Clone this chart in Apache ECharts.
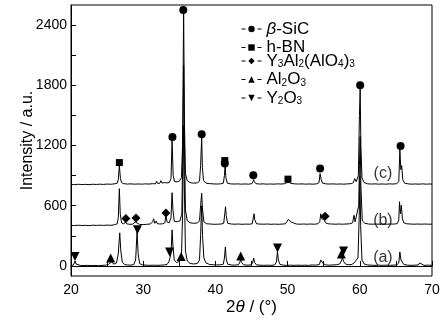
<!DOCTYPE html>
<html><head><meta charset="utf-8">
<script src="https://cdn.jsdelivr.net/npm/echarts@6/dist/echarts.min.js"></script>
<style>html,body{margin:0;padding:0;background:#fff}#c{width:448px;height:322px}</style>
</head><body><div id="c"></div>
<script>
// ---- data (2θ in degrees, intensity a.u.) ----
const traceC = [[20.0,812],[20.5,810],[21.0,814],[21.5,811],[22.0,813],[22.5,810],[23.0,814],[23.5,812],[24.0,815],[24.5,812],[25.0,816],[25.5,814],[26.0,818],[26.4,825],[26.55,860],[26.7,1000],[26.85,870],[27.0,830],[27.3,820],[27.8,816],[28.3,818],[28.8,815],[29.3,817],[29.8,815],[30.3,818],[30.8,816],[31.3,820],[31.7,818],[31.85,845],[32.0,822],[32.3,824],[32.45,850],[32.6,826],[32.9,830],[33.05,845],[33.2,828],[33.6,830],[33.85,870],[34.0,1250],[34.15,900],[34.35,840],[34.7,838],[35.0,845],[35.3,880],[35.45,1200],[35.6,2540],[35.72,1400],[35.85,920],[36.1,850],[36.5,830],[37.0,825],[37.5,828],[37.8,845],[37.95,1000],[38.1,1280],[38.2,980],[38.35,850],[38.7,825],[39.2,820],[39.7,818],[40.2,816],[40.7,818],[41.1,825],[41.25,900],[41.35,1010],[41.45,880],[41.65,825],[42.1,818],[42.6,816],[43.1,818],[43.6,815],[44.1,817],[44.6,815],[45.05,820],[45.2,840],[45.3,860],[45.4,840],[45.6,820],[46.1,816],[46.6,818],[47.1,815],[47.6,817],[48.1,815],[48.6,818],[49.1,816],[49.6,820],[49.9,830],[50.05,838],[50.2,832],[50.5,822],[51.0,818],[51.5,816],[52.0,818],[52.5,815],[53.0,817],[53.5,815],[54.0,818],[54.35,830],[54.5,920],[54.65,860],[54.85,825],[55.3,818],[55.8,816],[56.3,818],[56.8,815],[57.3,817],[57.8,815],[58.3,818],[58.8,820],[59.1,830],[59.3,870],[59.5,840],[59.8,900],[59.95,1500],[60.05,1770],[60.15,1200],[60.3,880],[60.6,830],[61.1,818],[61.6,816],[62.1,818],[62.6,815],[63.1,817],[63.6,815],[64.1,818],[64.6,816],[65.1,820],[65.4,840],[65.55,1160],[65.68,960],[65.8,1000],[65.95,860],[66.2,825],[66.7,818],[67.2,815],[67.7,817],[68.2,815],[68.7,818],[69.2,815],[69.7,817],[70,815]];
const traceB = [[20.0,405],[20.5,402],[21.0,406],[21.5,403],[22.0,405],[22.5,402],[23.0,406],[23.5,404],[24.0,406],[24.5,404],[25.0,407],[25.5,405],[26.0,410],[26.4,420],[26.55,480],[26.7,770],[26.82,520],[27.0,430],[27.3,418],[27.55,440],[27.7,420],[28.0,416],[28.5,415],[28.9,438],[29.05,420],[29.5,414],[30.0,412],[30.5,415],[31.0,418],[31.3,440],[31.45,470],[31.6,425],[31.8,448],[31.95,422],[32.3,418],[32.7,420],[33.0,430],[33.15,505],[33.3,440],[33.6,430],[33.85,480],[34.0,730],[34.12,560],[34.3,445],[34.7,440],[35.1,450],[35.35,520],[35.5,1200],[35.6,2000],[35.7,1300],[35.85,560],[36.1,450],[36.5,430],[37.0,425],[37.5,428],[37.8,450],[37.95,600],[38.1,725],[38.2,580],[38.4,440],[38.8,420],[39.3,418],[39.8,415],[40.3,416],[40.8,418],[41.15,425],[41.3,520],[41.4,590],[41.5,500],[41.7,425],[42.2,418],[42.7,416],[43.2,418],[43.7,415],[44.2,417],[44.7,416],[45.1,420],[45.25,480],[45.35,520],[45.45,460],[45.7,420],[46.2,417],[46.7,416],[47.2,418],[47.7,415],[48.2,417],[48.7,415],[49.2,417],[49.7,420],[49.95,445],[50.1,465],[50.25,450],[50.45,440],[50.7,425],[51.2,418],[51.7,416],[52.2,418],[52.7,416],[53.2,418],[53.7,416],[54.2,420],[54.45,440],[54.6,520],[54.7,470],[54.85,480],[55.0,465],[55.25,430],[55.6,420],[56.1,418],[56.6,416],[57.1,418],[57.6,416],[58.1,418],[58.6,420],[59.0,430],[59.2,505],[59.35,440],[59.6,430],[59.85,600],[59.95,1000],[60.05,1290],[60.15,800],[60.35,450],[60.7,425],[61.2,418],[61.7,416],[62.2,418],[62.7,416],[63.2,418],[63.7,416],[64.2,418],[64.7,417],[65.2,422],[65.4,460],[65.5,640],[65.62,520],[65.75,605],[65.9,470],[66.1,430],[66.5,420],[67.0,418],[67.5,416],[68.0,418],[68.5,416],[69.0,418],[69.5,416],[70,417]];
const traceA = [[20.0,5],[20.3,8],[20.45,30],[20.55,50],[20.7,20],[20.9,8],[21.3,5],[21.8,4],[22.3,6],[22.8,4],[23.3,5],[23.8,3],[24.3,6],[24.8,8],[25.2,15],[25.45,30],[25.6,40],[25.75,22],[25.95,18],[26.3,30],[26.55,120],[26.75,330],[26.9,150],[27.1,40],[27.4,15],[27.8,10],[28.3,8],[28.7,15],[28.95,60],[29.15,340],[29.3,120],[29.5,25],[29.9,10],[30.4,8],[30.9,6],[31.4,8],[31.9,6],[32.4,8],[32.9,10],[33.3,15],[33.55,40],[33.7,80],[33.85,120],[34.0,360],[34.12,200],[34.3,60],[34.6,35],[34.9,40],[35.15,60],[35.3,90],[35.45,500],[35.6,1400],[35.72,700],[35.85,150],[36.1,50],[36.5,25],[37.0,20],[37.5,25],[37.8,60],[37.95,300],[38.1,600],[38.22,300],[38.4,80],[38.7,30],[39.2,15],[39.7,12],[40.2,10],[40.7,12],[41.1,18],[41.25,80],[41.38,190],[41.5,70],[41.7,18],[42.2,10],[42.7,8],[43.2,12],[43.4,40],[43.5,60],[43.62,35],[43.9,12],[44.4,8],[44.9,10],[45.15,30],[45.3,80],[45.42,35],[45.7,10],[46.2,8],[46.7,6],[47.2,8],[47.7,6],[48.2,10],[48.45,40],[48.6,145],[48.72,60],[48.95,15],[49.4,8],[49.9,6],[50.4,8],[50.9,6],[51.4,8],[51.9,6],[52.4,8],[52.9,6],[53.4,10],[53.9,8],[54.4,15],[54.6,60],[54.72,70],[54.9,25],[55.3,10],[55.8,8],[56.3,10],[56.8,12],[57.2,20],[57.45,50],[57.6,80],[57.75,45],[58.0,20],[58.4,12],[58.9,15],[59.2,30],[59.4,20],[59.75,80],[59.92,500],[60.02,900],[60.12,400],[60.3,60],[60.6,20],[61.1,10],[61.6,8],[62.1,6],[62.6,8],[63.1,6],[63.6,8],[64.1,6],[64.6,8],[65.1,10],[65.4,30],[65.55,140],[65.7,60],[65.85,50],[66.1,15],[66.6,8],[67.1,6],[67.6,8],[68.1,10],[68.3,30],[68.45,12],[68.9,6],[69.4,8],[70,6]];

const sicMarks   = [[34.05,1285],[35.55,2550],[38.1,1313],[41.3,1020],[45.25,905],[54.5,970],[60.05,1800],[65.65,1195]];
const hbnMarks   = [[26.7,1030],[41.3,1050],[50.05,865]];
const yagMarks   = [[27.6,472],[29.0,479],[33.15,528],[55.2,495]];
const al2o3Marks = [[25.5,80],[35.25,95],[43.5,100],[57.45,120]];
const y2o3Marks  = [[20.55,95],[29.2,362],[33.65,140],[48.6,180],[57.75,150]];

const curveLabels = ['(a)','(b)','(c)'];
const curveLabelX = [63.2,63.2,63.2];
const curveLabelY = [87,455,924];

const yLabelValues = [0,600,1200,1800,2400];
const yTickValues  = [0,300,600,900,1200,1500,1800,2100,2400];
const xLabelValues = [20,30,40,50,60,70];
const xTickValues  = [20,25,30,35,40,45,50,55,60,65,70];

const phaseNames = ['β-SiC','h-BN','Y3Al2(AlO4)3','Al2O3','Y2O3'];
const phaseRich = {
  'β-SiC': '{i|β}{n|-SiC}',
  'h-BN': '{n|h-BN}',
  'Y3Al2(AlO4)3': '{n|Y}{s|3}{n|Al}{s|2}{n|(AlO}{s|4}{n|)}{s|3}',
  'Al2O3': '{n|Al}{s|2}{n|O}{s|3}',
  'Y2O3': '{n|Y}{s|2}{n|O}{s|3}'
};

const FONT = '"Liberation Sans", Arial, sans-serif';
const chart = echarts.init(document.getElementById('c'), null, {renderer:'canvas'});

function traceSeries(name, data){
  return {name, type:'line', data, symbol:'none', smooth:false, animation:false,
    lineStyle:{color:'#000', width:1}, z:2};
}
function markSeries(name, data, symbol, rotate, size){
  return {name, type:'line', data, symbol, symbolSize:size, symbolRotate:rotate, showSymbol:true,
    animation:false, itemStyle:{color:'#000'}, lineStyle:{width:0, color:'#000'}, z:5};
}
const legendRowTop = [15.5, 34, 47.5, 66, 84.5];
function legendRow(i){
  return {
    orient:'vertical', left:236, top:legendRowTop[i], itemWidth:20, itemHeight:8, itemGap:0,
    data:[phaseNames[i]], selectedMode:false,
    lineStyle:{color:'#000', width:1, type:[4,12], opacity:1},
    itemStyle:{color:'#000'},
    formatter: n => phaseRich[n],
    textStyle:{fontFamily:FONT, fontSize:17, color:'#000', lineHeight:17,
      rich:{
        n:{fontFamily:FONT, fontSize:17, color:'#000', lineHeight:17},
        i:{fontFamily:FONT, fontSize:17, color:'#000', fontStyle:'italic', lineHeight:17},
        s:{fontFamily:FONT, fontSize:10, color:'#000', lineHeight:10, padding:[7,0,0,0]}
      }}
  };
}

chart.setOption({
  backgroundColor:'#fff',
  animation:false,
  grid:{left:71, right:16, top:5, bottom:46, show:true, borderColor:'#000', borderWidth:1},
  legend: phaseNames.map((_, i) => legendRow(i)),
  xAxis:{
    type:'value', min:20, max:70,
    name:'{n|2}{i|θ}{n| / (°)}', nameLocation:'middle', nameGap:23, nameMoveOverlap:false,
    nameTextStyle:{fontFamily:FONT, fontSize:17, color:'#000', verticalAlign:'top',
      rich:{n:{fontFamily:FONT,fontSize:17,color:'#000'}, i:{fontFamily:FONT,fontSize:17,color:'#000',fontStyle:'italic'}}},
    axisLine:{lineStyle:{color:'#000', width:1}},
    axisTick:{inside:true, length:5, lineStyle:{color:'#000'}, customValues:xTickValues},
    axisLabel:{fontFamily:FONT, fontSize:14, color:'#000', margin:7, customValues:xLabelValues,
      formatter: v => String(v)},
    splitLine:{show:false}
  },
  yAxis:{
    type:'value', min:-100, max:2600,
    name:'Intensity / a.u.', nameLocation:'middle', nameGap:35, nameMoveOverlap:false,
    nameTextStyle:{fontFamily:FONT, fontSize:16, color:'#000'},
    axisLine:{show:true, lineStyle:{color:'#000', width:1}},
    axisTick:{show:true, inside:true, length:5, lineStyle:{color:'#000'}, customValues:yTickValues},
    axisLabel:{fontFamily:FONT, fontSize:14, color:'#000', margin:4, customValues:yLabelValues,
      formatter: v => String(v)},
    splitLine:{show:false}
  },
  series:[
    traceSeries('a', traceA),
    traceSeries('b', traceB),
    traceSeries('c', traceC),
    markSeries('β-SiC', sicMarks, 'circle', 0, 8),
    markSeries('h-BN', hbnMarks, 'rect', 0, 7),
    markSeries('Y3Al2(AlO4)3', yagMarks, 'diamond', 0, 9),
    markSeries('Al2O3', al2o3Marks, 'triangle', 0, 9),
    markSeries('Y2O3', y2o3Marks, 'triangle', 180, 9),
    {type:'scatter', name:'labels', symbolSize:0, animation:false, silent:true,
     data: curveLabels.map((t,i)=>({value:[curveLabelX[i], curveLabelY[i]], name:t})),
     label:{show:true, position:'inside', formatter: p => p.name, fontFamily:FONT, fontSize:16, color:'#000'}}
  ]
});
</script></body></html>
